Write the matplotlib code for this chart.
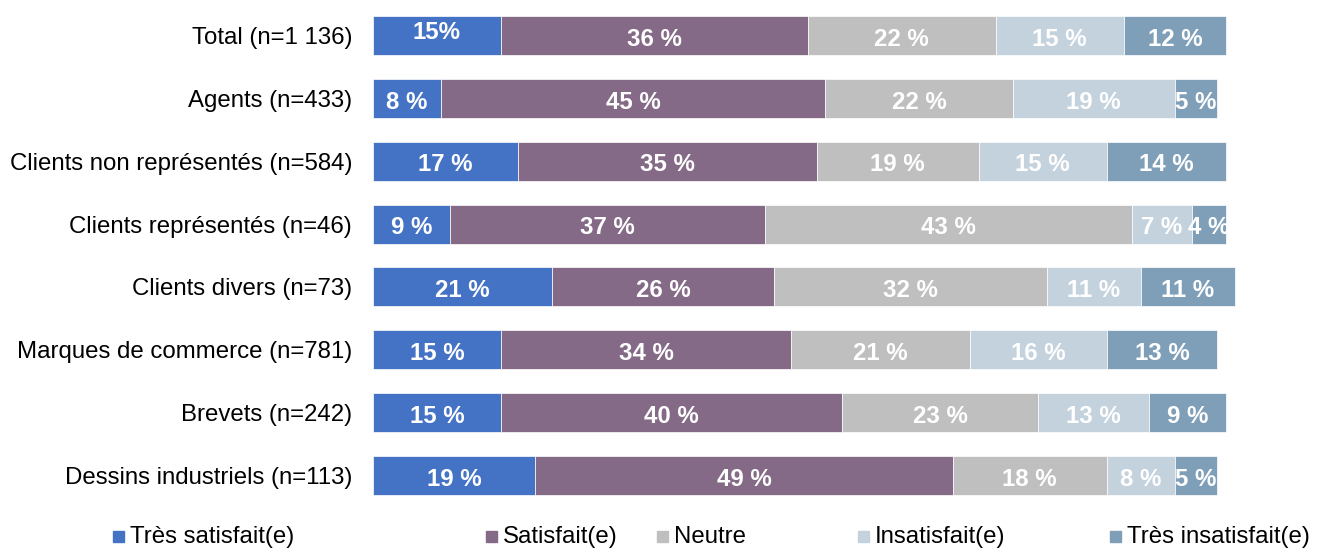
import matplotlib
matplotlib.use('Agg')
import matplotlib.pyplot as plt
from matplotlib.patches import Rectangle
import numpy as np

plt.rcParams['font.family'] = ['Liberation Sans', 'DejaVu Sans']

groups = ['Total (n=1 136)', 'Agents (n=433)', 'Clients non représentés (n=584)',
          'Clients représentés (n=46)', 'Clients divers (n=73)',
          'Marques de commerce (n=781)', 'Brevets (n=242)', 'Dessins industriels (n=113)']
levels = ['Très satisfait(e)', 'Satisfait(e)', 'Neutre', 'Insatisfait(e)', 'Très insatisfait(e)']

tres_satisfait = [15, 8, 17, 9, 21, 15, 15, 19]
satisfait = [36, 45, 35, 37, 26, 34, 40, 49]
neutre = [22, 22, 19, 43, 32, 21, 23, 18]
insatisfait = [15, 19, 15, 7, 11, 16, 13, 8]
tres_insatisfait = [12, 5, 14, 4, 11, 13, 9, 5]

colors = ['#4472C4', '#856A87', '#BFBFBF', '#C4D2DE', '#7F9FB8']

series = [tres_satisfait, satisfait, neutre, insatisfait, tres_insatisfait]

fig = plt.figure(figsize=(13.2, 5.48), dpi=100)
px = 853 / 100.0
ax = fig.add_axes([373 / 1320, 1 - 507 / 548, 102 * px / 1320, 503 / 548])

y = np.arange(len(groups))
left = np.zeros(len(groups))
fs = 17.3
for vals, col in zip(series, colors):
    vals = np.array(vals, dtype=float)
    bars = ax.barh(y, vals, left=left, height=0.62, color=col,
                   edgecolor='white', linewidth=0.5)
    for i, (b, v) in enumerate(zip(bars, vals)):
        txt = f'{int(v)} %'
        dy = 0.02
        if i == 0 and col == colors[0]:
            txt = f'{int(v)}%'
            dy = -0.09
        t = ax.text(left[i] + v / 2, y[i] + dy, txt, ha='center', va='center_baseline',
                    color='white', fontsize=fs, fontweight='bold')
        t.set_clip_path(b)
    left += vals

ax.set_xlim(0, 102)
ax.set_ylim(len(groups) - 0.5, -0.5)
ax.set_yticks(y)
ax.set_yticklabels(groups, fontsize=fs)
ax.tick_params(axis='y', length=0, pad=15)
ax.set_xticks([])
for s in ax.spines.values():
    s.set_visible(False)

# legend drawn by hand to keep the uneven spacing
leg_x = [113, 486, 657, 858, 1110]
for lx, lab, col in zip(leg_x, levels, colors):
    fig.patches.append(Rectangle((lx / 1320, 1 - 542 / 548), 11 / 1320, 11 / 548,
                                 transform=fig.transFigure, color=col))
    fig.text((lx + 17) / 1320, 1 - 537 / 548, lab, fontsize=fs, va='center', ha='left')

fig.savefig('out.png', dpi=100)
